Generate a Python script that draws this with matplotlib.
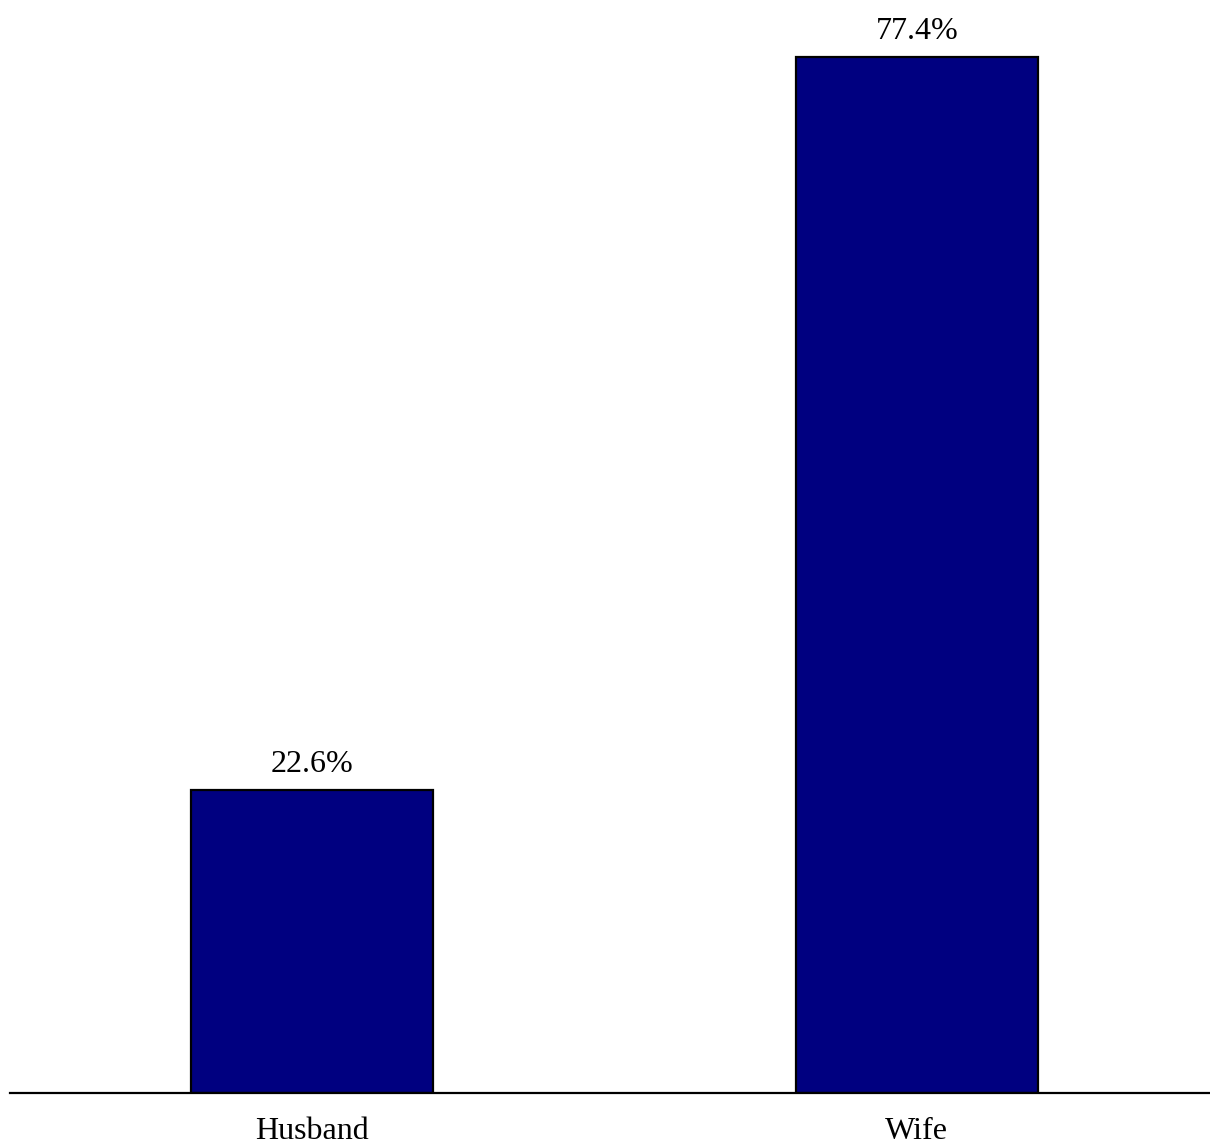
import matplotlib.pyplot as plt

categories = ["Husband", "Wife"]
values = [22.6, 77.4]
labels = ["22.6%", "77.4%"]

plt.rcParams['font.family'] = ['Liberation Serif', 'DejaVu Serif']

fig = plt.figure(figsize=(12.10, 11.45), dpi=100)
ax = fig.add_axes([10 / 1210, 52 / 1145, 1209 / 1210, 1070.8 / 1145])

x = range(len(categories))
bars = ax.bar(x, values, width=0.4, color="#000080", edgecolor="black", linewidth=1.6)

for b, lab in zip(bars, labels):
    ax.annotate(lab, (b.get_x() + b.get_width() / 2, b.get_height()),
                xytext=(0, 8), textcoords="offset points",
                ha="center", va="bottom", fontsize=23)

ax.set_xlim(-0.5, 1.5)
ax.set_ylim(0, 80)
ax.set_xticks(list(x))
ax.set_xticklabels(categories, fontsize=23)
ax.tick_params(axis="x", length=0, pad=17)
ax.set_yticks([])
for side in ["top", "right", "left"]:
    ax.spines[side].set_visible(False)
ax.spines["bottom"].set_linewidth(1.6)

fig.savefig("out.png", dpi=100)
